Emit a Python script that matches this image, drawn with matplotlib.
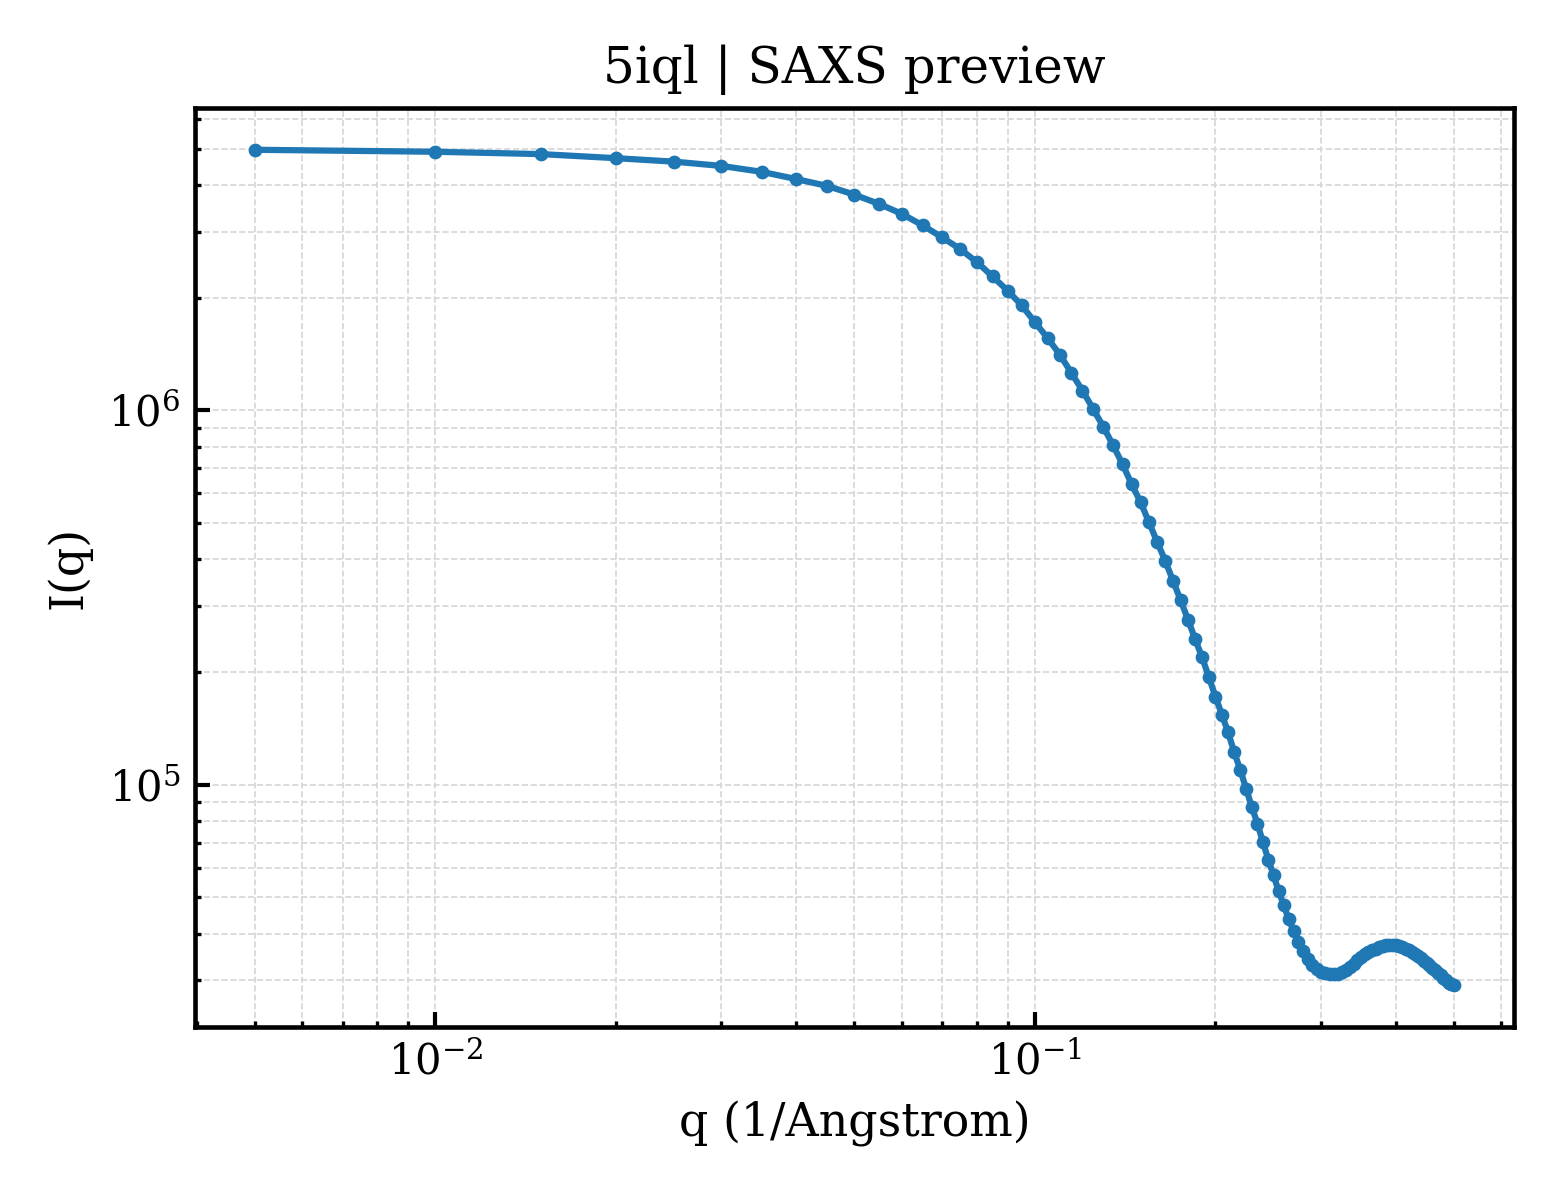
import matplotlib
matplotlib.use("Agg")
import matplotlib.pyplot as plt

# SAXS profile of 5iql, values
q = [0.005, 0.010, 0.015, 0.020, 0.025, 0.030, 0.035, 0.040, 0.045, 0.050,
     0.055, 0.060, 0.065, 0.070, 0.075, 0.080, 0.085, 0.090, 0.095, 0.100,
     0.105, 0.110, 0.115, 0.120, 0.125, 0.130, 0.135, 0.140, 0.145, 0.150,
     0.155, 0.160, 0.165, 0.170, 0.175, 0.180, 0.185, 0.190, 0.195, 0.200,
     0.205, 0.210, 0.215, 0.220, 0.225, 0.230, 0.235, 0.240, 0.245, 0.250,
     0.255, 0.260, 0.265, 0.270, 0.275, 0.280, 0.285, 0.290, 0.295, 0.300,
     0.305, 0.310, 0.315, 0.320, 0.325, 0.330, 0.335, 0.340, 0.345, 0.350,
     0.355, 0.360, 0.365, 0.370, 0.375, 0.380, 0.385, 0.390, 0.395, 0.400,
     0.405, 0.410, 0.415, 0.420, 0.425, 0.430, 0.435, 0.440, 0.445, 0.450,
     0.455, 0.460, 0.465, 0.470, 0.475, 0.480, 0.485, 0.490, 0.495, 0.500]

intensity = [4.97e6, 4.91e6, 4.84e6, 4.72e6, 4.62e6, 4.50e6, 4.34e6, 4.15e6, 3.98e6, 3.77e6,
             3.56e6, 3.35e6, 3.12e6, 2.90e6, 2.70e6, 2.49e6, 2.28e6, 2.09e6, 1.91e6, 1.72e6,
             1.56e6, 1.41e6, 1.26e6, 1.13e6, 1.01e6, 9.05e5, 8.07e5, 7.18e5, 6.35e5, 5.69e5,
             5.02e5, 4.44e5, 3.96e5, 3.50e5, 3.11e5, 2.76e5, 2.45e5, 2.19e5, 1.94e5, 1.72e5,
             1.54e5, 1.38e5, 1.22e5, 1.096e5, 9.76e4, 8.72e4, 7.87e4, 7.03e4, 6.31e4, 5.73e4,
             5.19e4, 4.77e4, 4.37e4, 4.07e4, 3.81e4, 3.60e4, 3.43e4, 3.30e4, 3.22e4, 3.17e4,
             3.14e4, 3.12e4, 3.12e4, 3.13e4, 3.16e4, 3.20e4, 3.26e4, 3.33e4, 3.40e4, 3.47e4,
             3.52e4, 3.58e4, 3.62e4, 3.65e4, 3.68e4, 3.70e4, 3.72e4, 3.73e4, 3.73e4, 3.72e4,
             3.71e4, 3.68e4, 3.65e4, 3.61e4, 3.57e4, 3.53e4, 3.48e4, 3.44e4, 3.39e4, 3.34e4,
             3.29e4, 3.24e4, 3.19e4, 3.14e4, 3.10e4, 3.05e4, 3.00e4, 2.96e4, 2.94e4, 2.91e4]

plt.rcParams['font.family'] = ['DejaVu Serif']
plt.rcParams['mathtext.fontset'] = 'dejavuserif'

fig, ax = plt.subplots(figsize=(5.2, 4.0), dpi=300)
fig.subplots_adjust(left=0.125, right=0.9705, top=0.91, bottom=0.144)

ax.plot(q, intensity, marker='o', markersize=2.3, linewidth=1.5, color='#1f77b4')
ax.set_xscale('log')
ax.set_yscale('log')

ax.set_title("5iql | SAXS preview", fontsize=12)
ax.set_xlabel("q (1/Angstrom)", fontsize=11)
ax.set_ylabel("I(q)", fontsize=11)

# light dashed grid on both major and minor ticks
ax.grid(True, which='both', linestyle='--', linewidth=0.4, color='#d6d6d6')
ax.tick_params(which='both', direction='in', labelsize=10)
ax.tick_params(which='major', length=3.5, width=1.0)
ax.tick_params(which='minor', length=1.5, width=0.8)
for sp in ax.spines.values():
    sp.set_linewidth(1.1)

fig.savefig("out.png", dpi=300)
